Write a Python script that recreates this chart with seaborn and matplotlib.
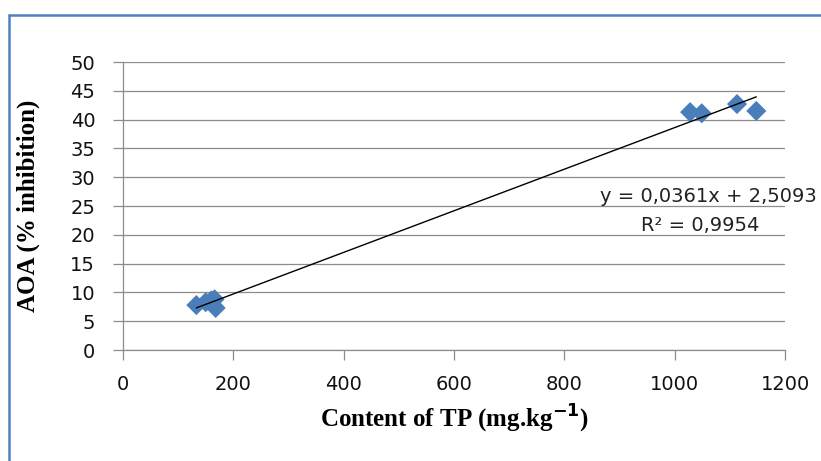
import numpy as np
import pandas as pd
import matplotlib
matplotlib.use("Agg")
import matplotlib.pyplot as plt
from matplotlib.lines import Line2D
import seaborn as sns

# ---- data ----
tp_content = [133, 150, 160, 166, 168, 1028, 1049, 1113, 1148]
aoa_inhibition = [7.8, 8.3, 8.6, 8.8, 7.3, 41.3, 41.1, 42.7, 41.5]
trend_slope = 0.0361
trend_intercept = 2.5093
r_squared = "0,9954"
x_ticks = [0, 200, 400, 600, 800, 1000, 1200]
y_ticks = [0, 5, 10, 15, 20, 25, 30, 35, 40, 45, 50]

df = pd.DataFrame({"TP": tp_content, "AOA": aoa_inhibition})

sns.set_theme(style="white")
plt.rcParams["font.family"] = ["DejaVu Sans"]

W, H = 821, 461
fig = plt.figure(figsize=(W / 100, H / 100), dpi=100)
ax = fig.add_axes([123 / W, 1 - 350 / H, (785 - 123) / W, (350 - 62) / H])

grid_c = "#8c8c8c"
ax.set_xlim(0, 1200)
ax.set_ylim(0, 50)
ax.set_xticks(x_ticks)
ax.set_yticks(y_ticks)
ax.yaxis.grid(True, color=grid_c, linewidth=0.9)
ax.set_axisbelow(True)

sns.scatterplot(data=df, x="TP", y="AOA", marker="D", s=105, color="#4A7EBB",
                edgecolor="none", ax=ax, zorder=3)

xs = np.array([min(tp_content), max(tp_content)])
ax.plot(xs, trend_slope * xs + trend_intercept, color="black", linewidth=1.0, zorder=4)

eq = f"y = {str(trend_slope).replace('.', ',')}x + {str(trend_intercept).replace('.', ',')}"
ax.text(1062, 26.6, eq, ha="center", va="center", fontsize=14, color="#222222",
        clip_on=False, zorder=5)
ax.text(1046, 21.7, f"R² = {r_squared}", ha="center", va="center", fontsize=14,
        color="#222222", clip_on=False, zorder=5)

for s in ["top", "right"]:
    ax.spines[s].set_visible(False)
for s in ["left", "bottom"]:
    ax.spines[s].set_color(grid_c)
    ax.spines[s].set_linewidth(0.9)

ax.tick_params(axis="both", which="major", direction="out", length=7, width=0.9,
               color=grid_c, labelsize=14, labelcolor="#111111")
ax.tick_params(axis="y", pad=13, left=True)
ax.tick_params(axis="x", pad=11, bottom=True)

ax.set_xlabel("Content of TP (mg.kg$^{\\mathbf{-1}}$)", fontsize=18, fontweight="bold",
              family="Liberation Serif", color="black")
ax.set_ylabel("AOA (% inhibition)", fontsize=18, fontweight="bold",
              family="Liberation Serif", color="black")
ax.xaxis.set_label_coords(0.5, -0.185)
ax.yaxis.set_label_coords(-0.125, 0.5)

border_c = "#4F81BD"
fig.add_artist(Line2D([9 / W, 9 / W], [0, 1 - 15 / H], transform=fig.transFigure,
                      color=border_c, linewidth=1.8))
fig.add_artist(Line2D([9 / W, 1], [1 - 15 / H, 1 - 15 / H], transform=fig.transFigure,
                      color=border_c, linewidth=1.8))

fig.savefig("out.png", dpi=100, facecolor="white")
